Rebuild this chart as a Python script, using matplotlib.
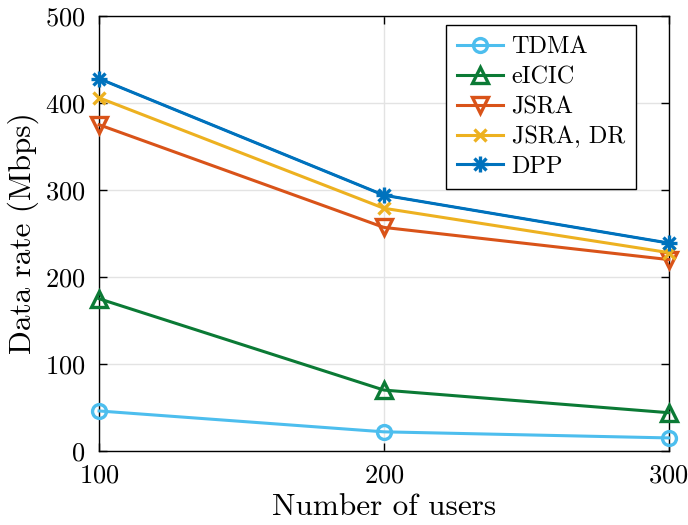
import matplotlib
matplotlib.use("Agg")
import matplotlib.pyplot as plt
from matplotlib.lines import Line2D

plt.rcParams.update({
    "font.family": "cmr10",
    "mathtext.fontset": "cm",
    "axes.formatter.use_mathtext": True,
})

users = [100, 200, 300]
tdma = [46, 22, 15]
eicic = [175, 70, 44]
jsra = [375, 257, 220]
jsra_dr = [406, 279, 228]
dpp = [428, 294, 239]

fig = plt.figure(figsize=(6.88, 5.25), dpi=100)
ax = fig.add_axes([0.144, 0.141, 0.828, 0.8285])

lw = 2.2
kw = dict(clip_on=False, zorder=3)
ax.plot(users, tdma, "-o", color="#4DBEEE", lw=lw, ms=10, mfc="none", mew=2.4, label="TDMA", **kw)
ax.plot(users, eicic, "-^", color="#0B7A35", lw=lw, ms=12, mfc="none", mew=2.4, label="eICIC", **kw)
ax.plot(users, jsra, "-v", color="#D95319", lw=lw, ms=12, mfc="none", mew=2.4, label="JSRA", **kw)
ax.plot(users, jsra_dr, "-x", color="#EDB120", lw=lw, ms=9, mew=2.4, label="JSRA, DR", **kw)
ax.plot(users, dpp, "-", color="#0072BD", lw=lw, label="DPP", **kw)
ax.plot(users, dpp, "none", color="#0072BD", marker="+", ms=11, mew=2.4, **kw)
ax.plot(users, dpp, "none", color="#0072BD", marker="x", ms=8.5, mew=2.4, **kw)

h, l = ax.get_legend_handles_labels()
h[-1] = (Line2D([], [], color="#0072BD", lw=lw, marker="+", ms=11, mew=2.4),
         Line2D([], [], color="#0072BD", lw=0, marker="x", ms=8.5, mew=2.4))

ax.set_xlim(100, 300)
ax.set_ylim(0, 500)
ax.set_xticks([100, 200, 300])
ax.set_yticks([0, 100, 200, 300, 400, 500])
ax.grid(True, color="#E3E3E3", lw=1)
ax.set_axisbelow(True)
ax.tick_params(direction="in", top=True, right=True, labelsize=19, length=6, width=1)
ax.tick_params(axis="x", pad=9)
ax.tick_params(axis="y", pad=10)
for s in ax.spines.values():
    s.set_linewidth(1)
ax.set_xlabel("Number of users", fontsize=22.5, labelpad=4)
ax.set_ylabel("Data rate (Mbps)", fontsize=22.5, labelpad=4)

leg = ax.legend(h, l, loc="upper right", bbox_to_anchor=(0.942, 0.979), fontsize=17.5,
                frameon=True, fancybox=False, edgecolor="black", framealpha=1,
                handlelength=1.9, borderpad=0.45, labelspacing=0.32,
                handletextpad=0.35, borderaxespad=0)
leg.get_frame().set_linewidth(1)

fig.savefig("out.png", dpi=100)
